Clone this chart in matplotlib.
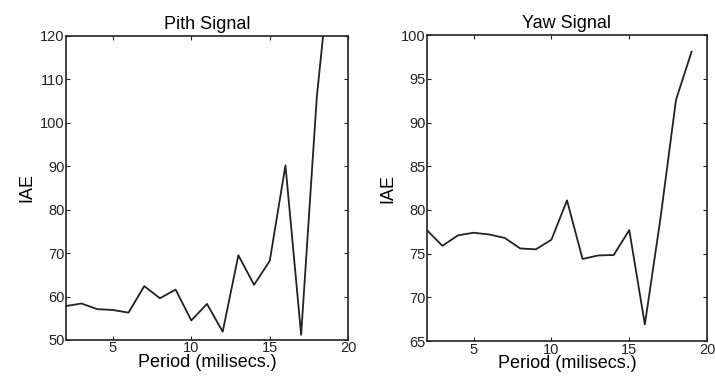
import matplotlib
matplotlib.use("Agg")
import matplotlib.pyplot as plt

plt.rcParams['font.family'] = ['Liberation Sans', 'DejaVu Sans']
plt.rcParams['font.size'] = 10.5

period = [2, 3, 4, 5, 6, 7, 8, 9, 10, 11, 12, 13, 14, 15, 16, 17, 18, 19]
pitch_iae = [57.8, 58.4, 57.1, 56.9, 56.3, 62.4, 59.6, 61.6, 54.5, 58.3, 51.9, 69.5, 62.7, 68.2, 90.2, 51.2, 106.0, 141.0]
yaw_iae = [77.7, 75.9, 77.1, 77.4, 77.2, 76.8, 75.6, 75.5, 76.6, 81.1, 74.4, 74.8, 74.85, 77.7, 66.9, 79.0, 92.6, 98.1]

fig = plt.figure(figsize=(7.15, 3.82), dpi=100)
ax1 = fig.add_axes([0.092, 0.110, 0.395, 0.796])
ax2 = fig.add_axes([0.597, 0.107, 0.392, 0.801])

panels = [
    (ax1, pitch_iae, 'Pith Signal', (50, 120), range(50, 121, 10)),
    (ax2, yaw_iae, 'Yaw Signal', (65, 100), range(65, 101, 5)),
]
for ax, vals, title, ylim, yticks in panels:
    ax.plot(period, vals, color='#222222', lw=1.3)
    ax.set_xlim(2, 20)
    ax.set_ylim(*ylim)
    ax.set_xticks([5, 10, 15, 20])
    ax.set_yticks(list(yticks))
    ax.tick_params(direction='in', top=True, right=True, length=3, pad=1, colors='#222222')
    ax.set_title(title, fontsize=13, pad=5)
    ax.set_xlabel('Period (milisecs.)', fontsize=13, labelpad=-1)
    ax.set_ylabel('IAE', fontsize=13, labelpad=3)
    for s in ax.spines.values():
        s.set_linewidth(1.2)
        s.set_color('#222222')

fig.savefig('out.png', dpi=100)
